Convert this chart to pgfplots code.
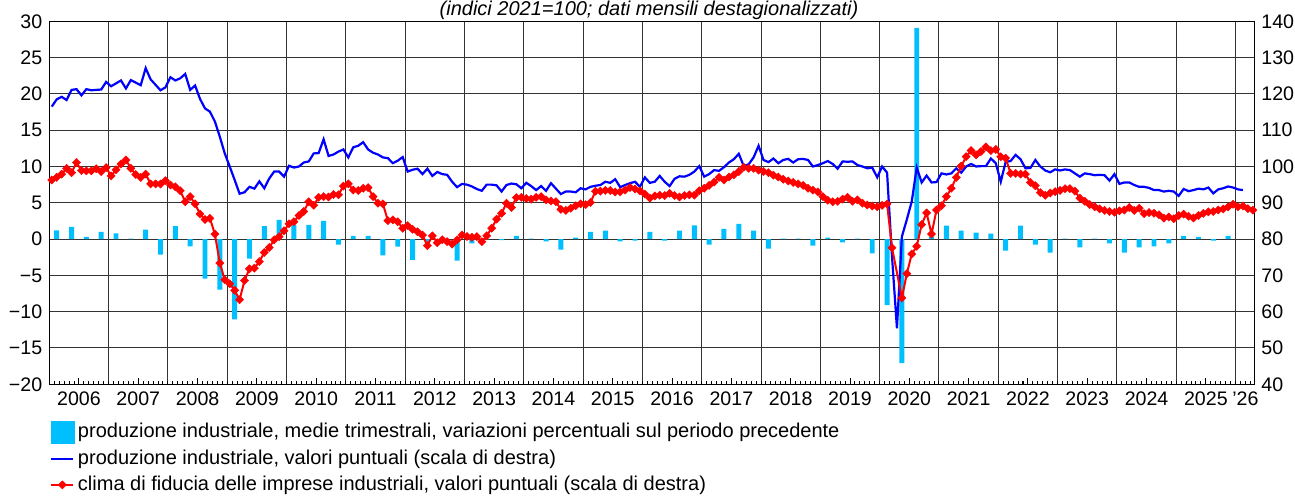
\documentclass[border=0pt]{standalone}
\usepackage{fontspec}
\setmainfont{Liberation Sans}
\usepackage{pgfplots}
\pgfplotsset{compat=1.18}
\usetikzlibrary{calc}
\definecolor{barcyan}{RGB}{0,191,255}
\definecolor{lineblue}{RGB}{0,0,255}
\definecolor{linered}{RGB}{255,0,0}

\pgfplotsset{
  base/.style={
    width=602.5pt, height=181.5pt, scale only axis,
    xmin=0, xmax=243.8,
    axis line style={black, line width=0.6pt},
    tick label style={font=\fontsize{9.8}{11}\selectfont},
    /pgf/number format/assume math mode=true,
  },
  lineleg/.style={legend image code/.code={
    \draw[mark repeat=2, mark phase=2, ##1] plot coordinates {(0pt,0pt) (5.5pt,0pt) (11pt,0pt)};}},
}

\begin{document}
\begin{tikzpicture}
% left scale: quarterly percentage changes (bars) and the grid
\begin{axis}[base, name=main,
  ymin=-20, ymax=30,
  ytick={-20,-15,...,30},
  yticklabels={−20,−15,−10,−5,0,5,10,15,20,25,30},
  xtick={0,12,...,240}, xticklabels={},
  grid=major, major grid style={black!80, line width=0.5pt},
  major tick length=0pt,
]
\addplot[ybar, bar width=1, fill=barcyan, draw=none] coordinates {
  (1.5,1.2)(4.5,1.7)(7.5,0.3)(10.5,1.0)(13.5,0.8)(16.5,0.05)(19.5,1.3)(22.5,-2.15)
  (25.5,1.8)(28.5,-1.0)(31.5,-5.45)(34.5,-6.95)(37.5,-11.05)(40.5,-2.7)(43.5,1.8)(46.5,2.65)
  (49.5,1.95)(52.5,1.95)(55.5,2.5)(58.5,-0.75)(61.5,0.45)(64.5,0.45)(67.5,-2.25)(70.5,-1.05)
  (73.5,-2.85)(76.5,-0.35)(79.5,-0.2)(82.5,-2.95)(85.5,-0.6)(88.5,-0.05)(91.5,-0.15)(94.5,0.45)
  (97.5,0.05)(100.5,-0.3)(103.5,-1.45)(106.5,0.2)(109.5,1.0)(112.5,1.15)(115.5,-0.3)(118.5,-0.2)
  (121.5,1.0)(124.5,-0.2)(127.5,1.15)(130.5,1.9)(133.5,-0.75)(136.5,1.4)(139.5,2.1)(142.5,1.15)
  (145.5,-1.3)(148.5,0.05)(151.5,0.05)(154.5,-0.9)(157.5,0.2)(160.5,-0.45)(163.5,0.05)(166.5,-1.95)
  (169.5,-9.1)(172.5,-17.1)(175.5,29.1)(178.5,0.35)(181.5,1.85)(184.5,1.15)(187.5,0.9)(190.5,0.75)
  (193.5,-1.6)(196.5,1.85)(199.5,-0.75)(202.5,-1.85)(205.5,0.05)(208.5,-1.15)(211.5,0.05)(214.5,-0.6)
  (217.5,-1.85)(220.5,-1.15)(223.5,-1.0)(226.5,-0.6)(229.5,0.45)(232.5,0.3)(235.5,-0.2)(238.5,0.45)
};
\end{axis}
% right scale: monthly index values
\begin{axis}[base,
  ymin=40, ymax=140, ytick={40,50,...,140},
  yticklabel pos=right, ytick style={draw=none},
  xtick={6,18,...,234},
  xticklabels={2006,2007,2008,2009,2010,2011,2012,2013,2014,2015,2016,2017,2018,2019,2020,2021,2022,2023,2024,2025},
  minor xtick={1,2,...,243},
  extra x ticks={242}, extra x tick labels={'26},
  extra x tick style={major tick length=0pt},
  xtick pos=bottom, tick align=inside,
  major tick length=3pt, minor tick length=1.8pt,
  xtick style={black, line width=0.5pt},
  legend style={
    at={(0,0)}, anchor=north west, xshift=0.3pt, yshift=-18pt,
    draw=none, fill=none, inner sep=0pt, row sep=2.9pt,
    font=\fontsize{10}{12}\selectfont,
    nodes={inner sep=0.6pt},
    /tikz/every odd column/.append style={column sep=1pt},
  },
  legend cell align=left,
]
\addlegendimage{legend image code/.code={\fill[barcyan] (0pt,-5.5pt) rectangle (11.5pt,5.5pt);}}
\addplot[lineblue, line width=1.1pt, lineleg] coordinates {
  (0.5,116.5)(1.5,118.5)(2.5,119.2)(3.5,118.3)(4.5,121.1)(5.5,121.3)(6.5,119.6)(7.5,121.3)(8.5,121.0)(9.5,121.1)(10.5,121.2)(11.5,123.3)
  (12.5,122.1)(13.5,122.9)(14.5,123.7)(15.5,121.5)(16.5,123.8)(17.5,123.1)(18.5,122.4)(19.5,127.1)(20.5,124.0)(21.5,122.5)(22.5,121.0)(23.5,121.8)
  (24.5,124.6)(25.5,123.7)(26.5,124.3)(27.5,125.5)(28.5,121.1)(29.5,122.3)(30.5,118.6)(31.5,116.0)(32.5,115.1)(33.5,112.4)(34.5,108.2)(35.5,103.6)
  (36.5,100.0)(37.5,96.3)(38.5,92.5)(39.5,92.9)(40.5,94.4)(41.5,93.9)(42.5,95.9)(43.5,94.0)(44.5,96.7)(45.5,98.6)(46.5,98.6)(47.5,97.2)
  (48.5,100.2)(49.5,99.7)(50.5,100.0)(51.5,101.1)(52.5,101.4)(53.5,103.6)(54.5,103.7)(55.5,107.5)(56.5,102.9)(57.5,103.3)(58.5,104.1)(59.5,104.7)
  (60.5,102.5)(61.5,105.3)(62.5,105.7)(63.5,106.7)(64.5,104.7)(65.5,103.8)(66.5,103.3)(67.5,102.5)(68.5,102.3)(69.5,100.9)(70.5,101.6)(71.5,102.6)
  (72.5,98.6)(73.5,99.1)(74.5,99.4)(75.5,97.9)(76.5,99.4)(77.5,97.4)(78.5,98.5)(79.5,97.9)(80.5,97.7)(81.5,95.8)(82.5,94.3)(83.5,95.2)
  (84.5,95.0)(85.5,94.5)(86.5,93.8)(87.5,93.3)(88.5,95.0)(89.5,95.0)(90.5,94.8)(91.5,93.1)(92.5,94.9)(93.5,95.3)(94.5,95.1)(95.5,94.0)
  (96.5,95.5)(97.5,94.6)(98.5,93.5)(99.5,94.6)(100.5,93.3)(101.5,95.4)(102.5,93.9)(103.5,92.4)(104.5,93.1)(105.5,93.1)(106.5,92.9)(107.5,94.0)
  (108.5,93.7)(109.5,94.4)(110.5,94.7)(111.5,94.9)(112.5,95.8)(113.5,95.5)(114.5,96.5)(115.5,94.3)(116.5,94.9)(117.5,95.4)(118.5,95.8)(119.5,94.4)
  (120.5,97.0)(121.5,95.5)(122.5,95.8)(123.5,97.4)(124.5,95.8)(125.5,94.6)(126.5,96.6)(127.5,97.3)(128.5,97.2)(129.5,97.7)(130.5,98.6)(131.5,100.1)
  (132.5,97.2)(133.5,97.9)(134.5,99.0)(135.5,98.8)(136.5,99.8)(137.5,101.1)(138.5,102.0)(139.5,103.5)(140.5,100.1)(141.5,100.6)(142.5,102.5)(143.5,105.7)
  (144.5,101.8)(145.5,101.2)(146.5,102.2)(147.5,100.9)(148.5,101.8)(149.5,102.1)(150.5,101.1)(151.5,102.0)(152.5,102.1)(153.5,101.8)(154.5,100.0)(155.5,100.4)
  (156.5,100.9)(157.5,101.5)(158.5,100.7)(159.5,99.4)(160.5,101.4)(161.5,101.3)(162.5,101.4)(163.5,100.4)(164.5,100.0)(165.5,99.5)(166.5,99.7)(167.5,97.0)
  (168.5,100.0)(169.5,98.3)(170.5,75.2)(171.5,55.4)(172.5,80.7)(173.5,85.4)(174.5,90.4)(175.5,99.7)(176.5,95.6)(177.5,97.5)(178.5,95.6)(179.5,95.7)
  (180.5,98.1)(181.5,97.8)(182.5,98.1)(183.5,99.5)(184.5,98.3)(185.5,100.0)(186.5,100.7)(187.5,100.0)(188.5,100.1)(189.5,100.1)(190.5,102.2)(191.5,100.9)
  (192.5,95.8)(193.5,101.3)(194.5,101.5)(195.5,103.2)(196.5,102.0)(197.5,99.5)(198.5,99.6)(199.5,101.8)(200.5,100.0)(201.5,98.9)(202.5,98.4)(203.5,99.2)
  (204.5,98.9)(205.5,99.2)(206.5,99.0)(207.5,98.1)(208.5,97.2)(209.5,98.1)(210.5,97.9)(211.5,97.6)(212.5,97.7)(213.5,97.6)(214.5,96.1)(215.5,97.9)
  (216.5,95.2)(217.5,95.6)(218.5,95.6)(219.5,94.9)(220.5,94.4)(221.5,94.4)(222.5,94.1)(223.5,93.5)(224.5,93.5)(225.5,93.1)(226.5,93.3)(227.5,93.1)
  (228.5,91.9)(229.5,93.8)(230.5,93.2)(231.5,93.5)(232.5,93.9)(233.5,93.7)(234.5,94.2)(235.5,92.6)(236.5,93.7)(237.5,94.0)(238.5,94.5)(239.5,94.2)
  (240.5,93.7)(241.5,93.5)
};
\addplot[linered, line width=1pt, lineleg, mark=square*,
  mark options={rotate=45, solid, fill=linered, draw=linered, line width=0.2pt}, mark size=1.45pt] coordinates {
  (0.5,96.3)(1.5,97.0)(2.5,97.9)(3.5,99.5)(4.5,98.3)(5.5,101.1)(6.5,98.9)(7.5,98.8)(8.5,98.8)(9.5,99.4)(10.5,98.6)(11.5,99.7)
  (12.5,97.4)(13.5,99.1)(14.5,100.7)(15.5,101.8)(16.5,99.5)(17.5,97.8)(18.5,97.0)(19.5,97.9)(20.5,95.2)(21.5,95.2)(22.5,95.2)(23.5,96.1)
  (24.5,94.9)(25.5,94.4)(26.5,93.3)(27.5,90.3)(28.5,91.7)(29.5,89.7)(30.5,86.9)(31.5,85.4)(32.5,85.7)(33.5,81.4)(34.5,73.4)(35.5,68.8)
  (36.5,67.7)(37.5,65.9)(38.5,63.3)(39.5,68.6)(40.5,71.8)(41.5,72.0)(42.5,73.8)(43.5,76.3)(44.5,77.7)(45.5,79.8)(46.5,80.7)(47.5,82.3)
  (48.5,84.2)(49.5,84.8)(50.5,86.5)(51.5,87.6)(52.5,90.3)(53.5,89.3)(54.5,91.5)(55.5,91.7)(56.5,91.6)(57.5,92.3)(58.5,92.2)(59.5,94.6)
  (60.5,95.2)(61.5,93.5)(62.5,93.4)(63.5,94.0)(64.5,94.2)(65.5,91.7)(66.5,89.9)(67.5,89.7)(68.5,85.1)(69.5,85.3)(70.5,84.8)(71.5,83.0)
  (72.5,83.7)(73.5,82.7)(74.5,82.0)(75.5,81.1)(76.5,78.2)(77.5,80.9)(78.5,79.0)(79.5,79.8)(80.5,79.3)(81.5,78.6)(82.5,79.8)(83.5,81.1)
  (84.5,80.7)(85.5,80.5)(86.5,80.7)(87.5,79.3)(88.5,80.9)(89.5,83.0)(90.5,85.5)(91.5,87.1)(92.5,89.9)(93.5,88.7)(94.5,91.4)(95.5,91.5)
  (96.5,91.2)(97.5,91.0)(98.5,91.5)(99.5,91.7)(100.5,90.8)(101.5,90.5)(102.5,90.3)(103.5,88.2)(104.5,87.9)(105.5,88.5)(106.5,89.2)(107.5,89.7)
  (108.5,89.5)(109.5,90.1)(110.5,93.2)(111.5,93.2)(112.5,93.4)(113.5,93.4)(114.5,93.0)(115.5,93.0)(116.5,93.5)(117.5,94.2)(118.5,93.8)(119.5,93.3)
  (120.5,92.4)(121.5,91.3)(122.5,91.9)(123.5,92.1)(124.5,92.0)(125.5,92.6)(126.5,92.0)(127.5,91.6)(128.5,92.0)(129.5,92.2)(130.5,92.1)(131.5,93.3)
  (132.5,94.0)(133.5,94.8)(134.5,95.7)(135.5,97.0)(136.5,96.3)(137.5,97.1)(138.5,97.7)(139.5,98.6)(140.5,99.8)(141.5,99.5)(142.5,99.5)(143.5,99.0)
  (144.5,98.6)(145.5,98.3)(146.5,97.6)(147.5,97.1)(148.5,96.5)(149.5,96.0)(150.5,95.6)(151.5,95.2)(152.5,94.8)(153.5,94.0)(154.5,93.5)(155.5,93.0)
  (156.5,91.7)(157.5,90.7)(158.5,90.3)(159.5,90.4)(160.5,91.0)(161.5,91.5)(162.5,90.4)(163.5,90.8)(164.5,89.9)(165.5,89.4)(166.5,89.1)(167.5,88.9)
  (168.5,89.3)(169.5,89.7)(170.5,77.6)(172.5,63.8)(173.5,70.5)(174.5,75.9)(175.5,78.0)(176.5,84.0)(177.5,87.2)(178.5,81.4)(179.5,88.0)
  (180.5,89.2)(181.5,91.7)(182.5,94.0)(183.5,97.0)(184.5,100.1)(185.5,102.7)(186.5,104.4)(187.5,103.2)(188.5,104.1)(189.5,105.4)(190.5,104.4)(191.5,104.7)
  (192.5,102.7)(193.5,102.3)(194.5,98.1)(195.5,98.1)(196.5,97.9)(197.5,97.9)(198.5,95.6)(199.5,94.7)(200.5,92.8)(201.5,92.1)(202.5,92.7)(203.5,93.1)
  (204.5,93.4)(205.5,93.9)(206.5,93.9)(207.5,93.2)(208.5,91.3)(209.5,90.4)(210.5,89.5)(211.5,88.9)(212.5,88.3)(213.5,87.9)(214.5,87.6)(215.5,87.4)
  (216.5,87.8)(217.5,88.0)(218.5,88.7)(219.5,87.9)(220.5,88.5)(221.5,87.0)(222.5,87.3)(223.5,87.1)(224.5,86.7)(225.5,85.8)(226.5,86.1)(227.5,85.6)
  (228.5,86.5)(229.5,86.9)(230.5,86.3)(231.5,85.8)(232.5,86.5)(233.5,87.1)(234.5,87.5)(235.5,87.6)(236.5,88.0)(237.5,88.3)(238.5,88.9)(239.5,89.6)
  (240.5,88.9)(241.5,89.1)(242.5,88.4)(243.5,88.0)
};
\legend{{produzione industriale, medie trimestrali, variazioni percentuali sul periodo precedente},
  {produzione industriale, valori puntuali (scala di destra)},
  {clima di fiducia delle imprese industriali, valori puntuali (scala di destra)}}
\end{axis}
\node[anchor=base, font=\itshape\fontsize{10}{12}\selectfont] at ($(main.north)+(-1.4pt,2.9pt)$)
  {(indici 2021=100; dati mensili destagionalizzati)};
\pgfresetboundingbox
\path[use as bounding box] ($(main.south west)+(-24.65pt,-55.85pt)$) rectangle ($(main.north east)+(20.35pt,10.65pt)$);
\end{tikzpicture}
\end{document}
